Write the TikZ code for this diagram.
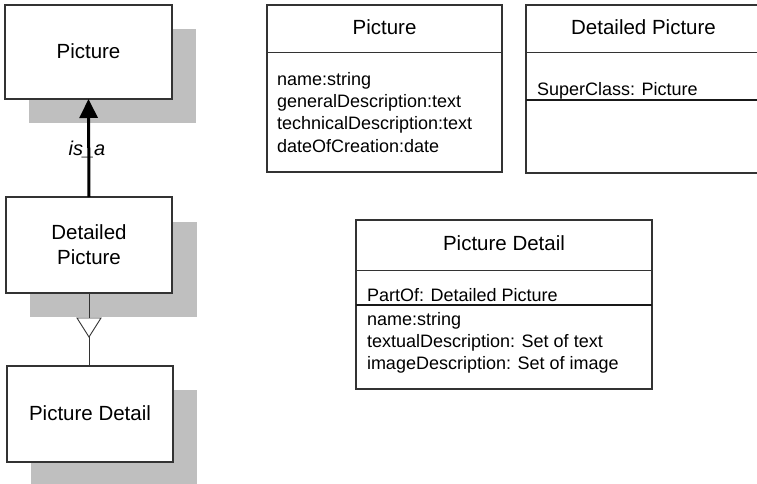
\documentclass[tikz,border=0pt]{standalone}
\usepackage{fontspec}
\setmainfont{Liberation Sans}
\usetikzlibrary{arrows.meta,calc}
\begin{document}
\begin{tikzpicture}[x=1pt,y=-1pt,
  every node/.style={inner sep=0pt, outer sep=0pt},
  box/.style={draw=black!80, line width=1.2pt, fill=white},
  shade/.style={fill=black!25},
  titletext/.style={font=\fontsize{20.5}{24}\selectfont, anchor=base},
  attrtext/.style={font=\fontsize{18}{22}\selectfont, anchor=base west},
  rule/.style={draw=black!80, line width=0.9pt},
  boldrule/.style={draw=black!90, line width=1.6pt}
]
\useasboundingbox (0,0) rectangle (757,484);

% ---- drop shadows of the left-hand boxes
\fill[shade] (29,29) rectangle (196,123);
\fill[shade] (30,222) rectangle (197,317);
\fill[shade] (31,390) rectangle (197,484);

% ---- left-hand boxes
\node[box, minimum width=167pt, minimum height=94pt] (lp) at (88.5,52) {};
\node[titletext] (lpt) at (88.5,59) {Picture};

\node[box, minimum width=166pt, minimum height=96pt] (ld) at (89,245) {};
\node[titletext] (ldt1) at (89,239) {Detailed};
\node[titletext] (ldt2) at (89,264) {Picture};

\node[box, minimum width=166pt, minimum height=96pt] (lpd) at (90,414) {};
\node[titletext] (lpdt) at (90,420) {Picture Detail};

% ---- is_a generalisation arrow
\draw[black, line width=3pt, -{Triangle[length=19pt,width=18pt]}] (ld.north) -- (lp.south);
\node[font=\itshape\fontsize{20}{24}\selectfont, anchor=base] (isa) at (87,155) {is\_a};

% ---- part-of link with open triangle
\draw[rule] (ld.south) -- (ld.south |- lpd.north);
\filldraw[rule, fill=white] ($(ld.south)+(-12,25)$) -- ($(ld.south)+(12,25)$)
  -- ($(ld.south)+(0,44)$) -- cycle;

% ---- class: Picture
\node[box, minimum width=235pt, minimum height=167pt] (cp) at (384.5,88.5) {};
\draw[rule] (cp.west |- 0,52) -- (cp.east |- 0,52);
\node[titletext] (cpt) at (384.5,35) {Picture};
\node[attrtext] (cpa1) at (277,86) {name:string};
\node[attrtext] (cpa2) at (277,108) {generalDescription:text};
\node[attrtext] (cpa3) at (277,130) {technicalDescription:text};
\node[attrtext] (cpa4) at (277,152) {dateOfCreation:date};

% ---- class: Detailed Picture (its right side is cut off by the margin)
\node[minimum width=231pt, minimum height=168pt] (cdp) at (641.5,89) {};
\draw[draw=black!80, line width=1.2pt] (cdp.north east) -- (cdp.north west)
  -- (cdp.south west) -- (cdp.south east);
\draw[rule] (cdp.west |- 0,52) -- (cdp.east |- 0,52);
\draw[boldrule] (cdp.west |- 0,100) -- (cdp.east |- 0,100);
\node[titletext] (cdpt) at (643.5,35) {Detailed Picture};
\node[attrtext] (cdpa1) at (537,96) {SuperClass: Picture};

% ---- class: Picture Detail
\node[box, minimum width=296pt, minimum height=169pt] (cpd) at (504,304.5) {};
\draw[rule] (cpd.west |- 0,270) -- (cpd.east |- 0,270);
\draw[boldrule] (cpd.west |- 0,305) -- (cpd.east |- 0,305);
\node[titletext] (cpdt) at (504,250) {Picture Detail};
\node[attrtext] (cpda0) at (367,301) {PartOf: Detailed Picture};
\node[attrtext] (cpda1) at (367,325) {name:string};
\node[attrtext] (cpda2) at (367,347) {textualDescription: Set of text};
\node[attrtext] (cpda3) at (367,369) {imageDescription: Set of image};
\end{tikzpicture}
\end{document}
